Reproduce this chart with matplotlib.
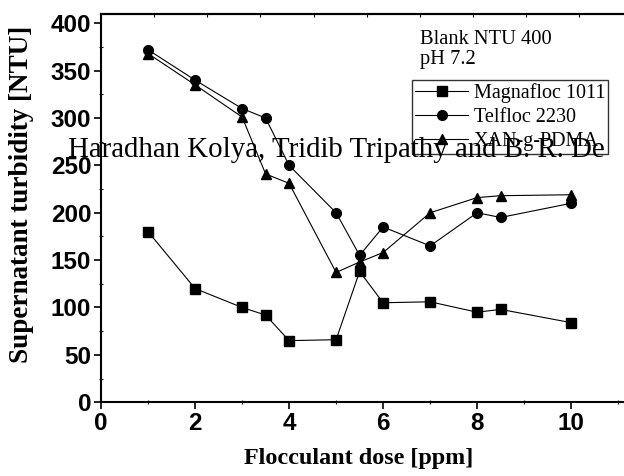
import matplotlib
matplotlib.use("Agg")
import matplotlib.pyplot as plt
from matplotlib.ticker import MultipleLocator

dose = [1, 2, 3, 3.5, 4, 5, 5.5, 6, 7, 8, 8.5, 10]
magnafloc = [180, 120, 100, 92, 65, 66, 138, 105, 106, 95, 98, 84]
telfloc = [372, 340, 310, 300, 250, 200, 155, 185, 165, 200, 195, 210]
xan = [368, 335, 301, 241, 231, 137, 148, 158, 200, 216, 218, 219]

series_names = ["Magnafloc 1011", "Telfloc 2230", "XAN-g-PDMA"]
x_ticks = [0, 2, 4, 6, 8, 10]
y_ticks = [0, 50, 100, 150, 200, 250, 300, 350, 400]

serif = "Liberation Serif"
sans = "Liberation Sans"

fig = plt.figure(figsize=(6.24, 4.76), dpi=100)
# the plot frame runs past the right edge of the picture, as in the reference
ax = fig.add_axes([0.162, 0.155, 0.864, 0.816])

ax.plot(dose, magnafloc, color="black", lw=0.8, marker="s", ms=6.5, label=series_names[0])
ax.plot(dose, telfloc, color="black", lw=0.8, marker="o", ms=7, label=series_names[1])
ax.plot(dose, xan, color="black", lw=0.8, marker="^", ms=7.5, label=series_names[2])

ax.set_xlim(0, 11.47)
ax.set_ylim(0, 410)
ax.set_xticks(x_ticks)
ax.set_yticks(y_ticks)
ax.xaxis.set_minor_locator(MultipleLocator(1))
ax.yaxis.set_minor_locator(MultipleLocator(25))

for s in ax.spines.values():
    s.set_linewidth(1.5)
ax.spines["right"].set_visible(False)

ax.tick_params(which="major", direction="out", length=5, width=1.2,
               labelsize=17.5, pad=2, top=False, right=False)
ax.tick_params(which="minor", direction="inout", length=3, width=0.8,
               top=False, right=False)
for lab in ax.get_xticklabels() + ax.get_yticklabels():
    lab.set_fontfamily(sans)
    lab.set_fontweight("bold")

# small inward ticks along the top frame line
top = ax.secondary_xaxis("top")
top.set_xticks([i * 1.13 for i in range(11)])
top.tick_params(direction="in", length=2, width=0.8, labeltop=False)
top.spines["top"].set_linewidth(1.5)

ax.set_xlabel("Flocculant dose [ppm]", fontfamily=serif, fontweight="bold",
              fontsize=17.4)
ax.xaxis.set_label_coords(0.477, -0.117)
ax.set_ylabel("Supernatant turbidity [NTU]", fontfamily=serif, fontweight="bold",
              fontsize=19.5)
ax.yaxis.set_label_coords(-0.124, 0.535)

ax.text(0.592, 0.958, "Blank NTU 400\npH 7.2", transform=ax.transAxes,
        fontfamily=serif, fontsize=14.8, va="top", ha="left", linespacing=1.05)

leg = ax.legend(loc="upper right", bbox_to_anchor=(0.941, 0.830),
                prop={"family": serif, "size": 14.5}, frameon=True, fancybox=False,
                edgecolor="black", facecolor="none", framealpha=None,
                borderpad=0.15, handlelength=2.6, handletextpad=0.3,
                labelspacing=0.25, borderaxespad=0)
leg.get_frame().set_linewidth(1.0)

fig.text(0.109, 1 - 157 / 476, "Haradhan Kolya, Tridib Tripathy and B. R. De",
         fontfamily=serif, fontsize=20.8, ha="left", va="baseline", color="black")

fig.savefig("out.png", dpi=100)
